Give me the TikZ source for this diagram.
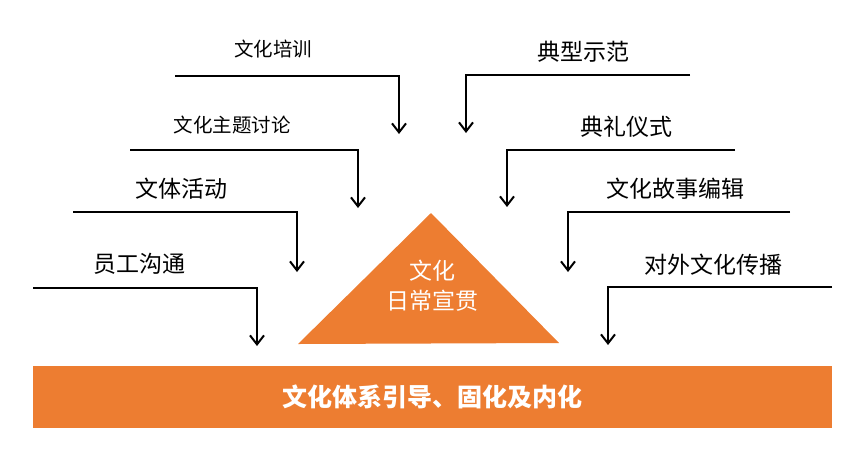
\documentclass[tikz,border=0pt]{standalone}
\usepackage{fontspec}
\setmainfont{Noto Sans CJK SC}
\usetikzlibrary{arrows.meta}
\definecolor{orng}{HTML}{ED7D31}
\tikzset{
  lbl/.style={inner sep=0pt, font=\fontsize{23}{25}\selectfont, text=black},
  lblsm/.style={inner sep=0pt, font=\fontsize{19.5}{21}\selectfont, text=black},
  conn/.style={line width=2.6pt, line join=miter, -{Straight Barb[length=9pt,width=14pt,line width=2pt]}},
}
\begin{document}
\begin{tikzpicture}[x=1pt,y=-1pt]
\useasboundingbox (0,0) rectangle (864,456);
% bottom bar
\node[fill=orng, minimum width=799pt, minimum height=62pt, inner sep=0pt, anchor=north west] (bar) at (33,366) {};
\node[text=white, font=\bfseries\fontsize{25}{27}\selectfont, inner sep=0pt] (bartxt) at (432,397) {文化体系引导、固化及内化};
% triangle
\coordinate (ta) at (431,213);
\coordinate (tl) at (298,344);
\coordinate (tr) at (559,343);
\fill[orng] (ta) -- (tr) -- (tl) -- cycle;
\node[text=white, font=\fontsize{23}{30}\selectfont, align=center, inner sep=0pt] (tri) at (432,286) {文化\\日常宣贯};
% labels
\node[lblsm] (l1) at (273,49) {文化培训};
\node[lblsm] (l2) at (232,125) {文化主题讨论};
\node[lbl] (l3) at (181,189) {文体活动};
\node[lbl] (l4) at (139,264) {员工沟通};
\node[lbl] (r1) at (583,52) {典型示范};
\node[lbl] (r2) at (626,127) {典礼仪式};
\node[lbl] (r3) at (675,189) {文化故事编辑};
\node[lbl] (r4) at (713,265) {对外文化传播};
% connectors left
\coordinate (l1s) at (175,76); \coordinate (l1c) at (399,76); \coordinate (l1t) at (399,134);
\coordinate (l2s) at (130,150); \coordinate (l2c) at (358,150); \coordinate (l2t) at (358,208);
\coordinate (l3s) at (73,212); \coordinate (l3c) at (297,212); \coordinate (l3t) at (297,272);
\coordinate (l4s) at (33,288); \coordinate (l4c) at (257,288); \coordinate (l4t) at (257,346);
\draw[conn] (l1s) -- (l1c) -- (l1t);
\draw[conn] (l2s) -- (l2c) -- (l2t);
\draw[conn] (l3s) -- (l3c) -- (l3t);
\draw[conn] (l4s) -- (l4c) -- (l4t);
% connectors right
\coordinate (r1s) at (690,75); \coordinate (r1c) at (466,75); \coordinate (r1t) at (466,133);
\coordinate (r2s) at (735,150); \coordinate (r2c) at (507,150); \coordinate (r2t) at (507,207);
\coordinate (r3s) at (790,212); \coordinate (r3c) at (568,212); \coordinate (r3t) at (568,272);
\coordinate (r4s) at (832,287); \coordinate (r4c) at (608,287); \coordinate (r4t) at (608,345);
\draw[conn] (r1s) -- (r1c) -- (r1t);
\draw[conn] (r2s) -- (r2c) -- (r2t);
\draw[conn] (r3s) -- (r3c) -- (r3t);
\draw[conn] (r4s) -- (r4c) -- (r4t);
\end{tikzpicture}
\end{document}
